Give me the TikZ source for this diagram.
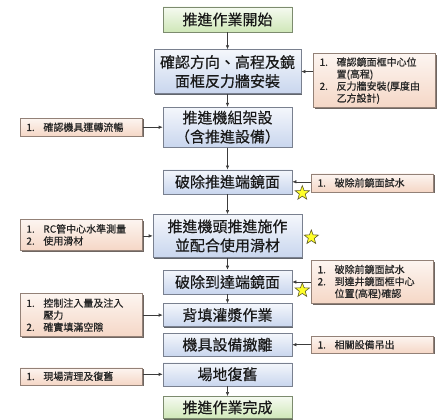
\documentclass[tikz,border=0pt]{standalone}
\usepackage{fontspec}
\setmainfont{Noto Sans CJK TC}
\newfontfamily\stepfont[FakeBold=0.4]{Noto Sans CJK TC}
\newfontfamily\notefont[FakeBold=0.5]{Noto Sans CJK TC}
\usetikzlibrary{arrows.meta,positioning,shapes.geometric,shadows}
\definecolor{bluei}{RGB}{201,214,238}
\definecolor{greeni}{RGB}{207,231,184}
\definecolor{peachi}{RGB}{245,215,198}
\definecolor{grayi}{RGB}{60,60,60}
\definecolor{yellowi}{RGB}{255,255,40}
\newcommand{\notenum}[1]{\makebox[17pt][l]{#1}}
\newcommand{\notecont}{\hspace*{17pt}}
\tikzset{
      mystepblock/.style 2 args={
        draw=#1!60!black,
        top color=#1!20,
        bottom color=#1,
        line width=0.6pt,
        align=center,
        text=black!90,
        text width=#2,
        inner xsep=0pt,
        inner ysep=3pt,
        font=\stepfont\fontsize{15}{19}\selectfont,
        drop shadow={shadow xshift=1.2pt,shadow yshift=-1.2pt,fill=#1!35!black,opacity=0.85}
      },
      mynoteblock/.style={
        draw=peachi!60!black,
        top color=peachi!25,
        bottom color=peachi,
        line width=0.6pt,
        align=left,
        text=black!85,
        text width=110pt,
        inner xsep=6pt,
        inner ysep=3pt,
        minimum height=#1,
        font=\notefont\fontsize{10}{12}\selectfont,
        drop shadow={shadow xshift=1.2pt,shadow yshift=-1.2pt,fill=peachi!35!black,opacity=0.85}
      },
      mystar/.style={
        star,
        star points=5,
        star point ratio=2.4,
        minimum size=15pt,
        inner sep=0pt,
        fill=yellowi,
        draw=olive!60!black,
        line width=0.6pt
      },
      myarrow/.style={
        ->,
        >={Latex[length=4pt,width=3.5pt]},
        draw=grayi,
        line width=0.6pt
      },
    }
\begin{document}
\begin{tikzpicture}[x=1pt,y=1pt]
            \useasboundingbox (0,0) rectangle (442,-420);

            %Passos principals
            \node[mystepblock={greeni}{129pt},minimum height=25pt]
              (startStep) at (227.5,-19.5)
              {推進作業開始};
            \node[mystepblock={bluei}{147pt},minimum height=44pt,below=17pt of startStep]
              (step1)
              {確認方向、高程及鏡\\面框反力牆安裝};
            \node[mystepblock={bluei}{129pt},minimum height=40pt,below=13pt of step1]
              (step2)
              {推進機組架設\\（含推進設備）};
            \node[mystepblock={bluei}{129pt},minimum height=24pt,below=22pt of step2]
              (step3)
              {破除推進端鏡面};
            \node[mystepblock={bluei}{149pt},minimum height=43pt,below=20pt of step3]
              (step4)
              {推進機頭推進施作\\並配合使用滑材};
            \node[mystepblock={bluei}{129pt},minimum height=24pt,below=12pt of step4]
              (step5)
              {破除到達端鏡面};
            \node[mystepblock={bluei}{129pt},minimum height=23pt,below=9pt of step5]
              (step6)
              {背填灌漿作業};
            \node[mystepblock={bluei}{129pt},minimum height=23pt,below=6pt of step6]
              (step7)
              {機具設備撤離};
            \node[mystepblock={bluei}{129pt},minimum height=23pt,below=6pt of step7]
              (step8)
              {場地復舊};
            \node[mystepblock={greeni}{129pt},minimum height=22pt,below=10pt of step8]
              (endStep)
              {推進作業完成};

            %Notes
            \node[mynoteblock=54pt,right=12pt of step1,yshift=-9pt]
              (noteStep1)
              {\notenum{1.}確認鏡面框中心位\\\notecont 置(高程)\\\notenum{2.}反力牆安裝(厚度由\\\notecont 乙方設計)};
            \node[mynoteblock=18pt,left=20pt of step2]
              (noteStep2)
              {\notenum{1.}確認機具運轉流暢};
            \node[mynoteblock=18pt,right=19pt of step3,yshift=-1pt]
              (noteStep3)
              {\notenum{1.}破除前鏡面試水};
            \node[mynoteblock=31pt,left=10pt of step4,yshift=1pt]
              (noteStep4)
              {\notenum{1.}RC管中心水準測量\\\notenum{2.}使用滑材};
            \node[mynoteblock=43pt,right=19pt of step5]
              (noteStep5)
              {\notenum{1.}破除前鏡面試水\\\notenum{2.}到達井鏡面框中心\\\notecont 位置(高程)確認};
            \node[mynoteblock=43pt,left=20pt of step6]
              (noteStep6)
              {\notenum{1.}控制注入量及注入\\\notecont 壓力\\\notenum{2.}確實填滿空隙};
            \node[mynoteblock=17pt,right=19pt of step7]
              (noteStep7)
              {\notenum{1.}相關設備吊出};
            \node[mynoteblock=17pt,left=20pt of step8,yshift=-2pt]
              (noteStep8)
              {\notenum{1.}現場清理及復舊};

            %Fletxes
            \draw [myarrow] (startStep) -- (step1);
            \draw [myarrow] (step1) -- (step2);
            \draw [myarrow] (step2) -- (step3);
            \draw [myarrow] (step3) -- (step4);
            \draw [myarrow] (step4) -- (step5);
            \draw [myarrow] (step5) -- (step6);
            \draw [myarrow] (step8) -- (endStep);
            \draw [myarrow] (step1.east -| noteStep1.west) -- (step1.east);
            \draw [myarrow] (step2.west -| noteStep2.east) -- (step2.west);
            \draw [myarrow] (step3.east -| noteStep3.west) -- (step3.east);
            \draw [myarrow] (step4.west -| noteStep4.east) -- (step4.west);
            \draw [myarrow] (step5.east -| noteStep5.west) -- (step5.east);
            \draw [myarrow] (step6.west -| noteStep6.east) -- (step6.west);
            \draw [myarrow] (step7.east -| noteStep7.west) -- (step7.east);
            \draw [myarrow] (step8.west -| noteStep8.east) -- (step8.west);

            %Estrelles
            \node[mystar] (star3) at ([xshift=10pt,yshift=1pt]step3.south east) {};
            \node[mystar] (star4) at ([xshift=9pt,yshift=-1.5pt]step4.east) {};
            \node[mystar] (star5) at ([xshift=10pt,yshift=4pt]step5.south east) {};

          \end{tikzpicture}
\end{document}
